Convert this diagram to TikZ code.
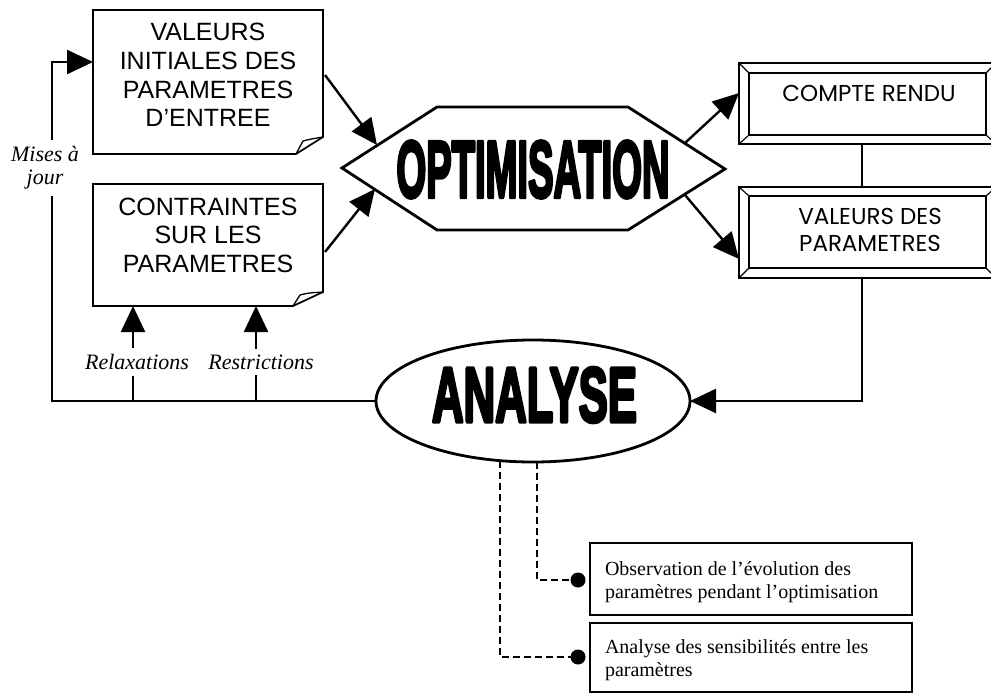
\documentclass[tikz,border=0pt]{standalone}
\usepackage{graphicx}
\usepackage{fontspec}
\setmainfont{Liberation Serif}
\newfontfamily\capsfont{Liberation Sans}
\newfontfamily\gothic{Poppins}
\newfontfamily\heavy{Liberation Sans}[BoldFeatures={FakeBold=5}]
\usetikzlibrary{arrows.meta,shapes.geometric}
\begin{document}
\begin{tikzpicture}[x=1pt,y=-1pt,
  every node/.style={inner sep=0pt,outer sep=0pt},
  wire/.style={line width=2.4pt},
  tip/.style={-{Triangle[length=26pt,width=24pt]}},
  paper/.style={line width=1.7pt,fill=white,line join=miter},
  caps/.style={font=\capsfont\fontsize{25}{28.6}\selectfont,align=center},
  gothictext/.style={font=\gothic\fontsize{23}{27}\selectfont,align=center},
  title/.style={line join=round},
  lab/.style={font=\itshape\fontsize{22}{23}\selectfont,fill=white,align=center},
  note/.style={font=\fontsize{20}{23.5}\selectfont,align=left},
  dashw/.style={line width=1.6pt,dash pattern=on 7pt off 4pt},
  dot/.style={circle,fill=black,minimum size=15pt},
  frame/.style={line width=1.8pt},
  bevel/.style={line width=1.1pt}
]
\useasboundingbox (0,0) rectangle (991,693);

% input sheets with a turned-down corner
\draw[paper] (93,10) -- (323,10) -- (323,137) -- (296,154) -- (93,154) -- cycle;
\draw[line width=1.3pt] (296,154) -- (303,141) .. controls (311,139) .. (323,137);
\node[caps] (vi) at (208,75) {VALEURS\\INITIALES DES\\PARAMETRES\\D’ENTREE};

\draw[paper] (93,184) -- (323,184) -- (323,292) -- (293,306) -- (93,306) -- cycle;
\draw[line width=1.3pt] (293,306) -- (300,295) .. controls (308,293) .. (323,292);
\node[caps] (ct) at (208,235) {CONTRAINTES\\SUR LES\\PARAMETRES};

% optimisation hexagon
\draw[line width=2.8pt,line join=miter] (342,168) -- (437,107) -- (628,107) -- (725,169) -- (628,230) -- (437,230) -- cycle;
\node[title] (opt) at (533,169.5) {\resizebox{273pt}{56pt}{\heavy\bfseries OPTIMISATION}};

% bevelled result frames
\draw[frame,fill=white] (739,63) rectangle (996,144);
\draw[frame] (749,73) rectangle (986,135);
\draw[bevel] (739,63) -- (749,73) (996,63) -- (986,73) (739,144) -- (749,135) (996,144) -- (986,135);
\node[gothictext,anchor=base] (cr) at (869,101) {COMPTE RENDU};

\draw[frame,fill=white] (739,187) rectangle (996,278);
\draw[frame] (749,196) rectangle (986,268);
\draw[bevel] (739,187) -- (749,196) (996,187) -- (986,196) (739,278) -- (749,268) (996,278) -- (986,268);
\node[gothictext] (vp) at (870,230) {VALEURS DES\\PARAMETRES};

% analysis ellipse
\node[draw,ellipse,line width=2.8pt,minimum width=314pt,minimum height=122pt] (an) at (533,401) {};
\node[title] (anl) at (534.5,395) {\resizebox{205pt}{54pt}{\heavy\bfseries ANALYSE}};

% connectors around the optimisation step
\coordinate (viR) at (325,75);
\coordinate (hxA) at (377,145);
\coordinate (ctR) at (325,252);
\coordinate (hxB) at (375,189);
\coordinate (hxC) at (685,143);
\coordinate (crL) at (739,93);
\coordinate (hxD) at (685,195);
\coordinate (vpL) at (739,259);
\draw[wire,tip] (viR) -- (hxA);
\draw[wire,tip] (ctR) -- (hxB);
\draw[wire,tip] (hxC) -- (crL);
\draw[wire,tip] (hxD) -- (vpL);

\coordinate (crB) at (862,144);
\coordinate (vpT) at (862,187);
\coordinate (vpB) at (862,278);
\draw[wire] (crB) -- (vpT);
\draw[wire,tip] (vpB) |- (an.east);

% feedback loop
\coordinate (fbL) at (52,401);
\coordinate (fbT) at (52,62);
\coordinate (viL) at (93,62);
\draw[wire,tip] (an.west) -- (fbL) -- (fbT) -- (viL);

\coordinate (rxB) at (133,401);
\coordinate (rxT) at (133,306);
\coordinate (rsB) at (256,401);
\coordinate (rsT) at (256,306);
\draw[wire,tip] (rxB) -- (rxT);
\draw[wire,tip] (rsB) -- (rsT);

\node[lab,inner xsep=2pt,inner ysep=7pt] (maj) at (45,168) {Mises à\\jour};
\node[lab,inner xsep=1pt,inner ysep=6pt] (rx) at (137,362) {Relaxations};
\node[lab,inner xsep=1pt,inner ysep=6pt] (rs) at (261,362) {Restrictions};

% analysis outputs
\node[draw,line width=1.5pt,minimum width=322pt,minimum height=72pt,anchor=north west] (ob) at (590,543) {};
\node[note,anchor=west] (obt) at (605,582) {Observation de l’évolution des\\paramètres pendant l’optimisation};
\node[draw,line width=1.5pt,minimum width=322pt,minimum height=69pt,anchor=north west] (se) at (590,623) {};
\node[note,anchor=west] (set) at (605,660) {Analyse des sensibilités entre les\\paramètres};

\draw[dashw] (an.274) |- (578,580) node[dot] (d1) {};
\draw[dashw] (an.241) |- (578,657) node[dot] (d2) {};
\end{tikzpicture}
\end{document}
